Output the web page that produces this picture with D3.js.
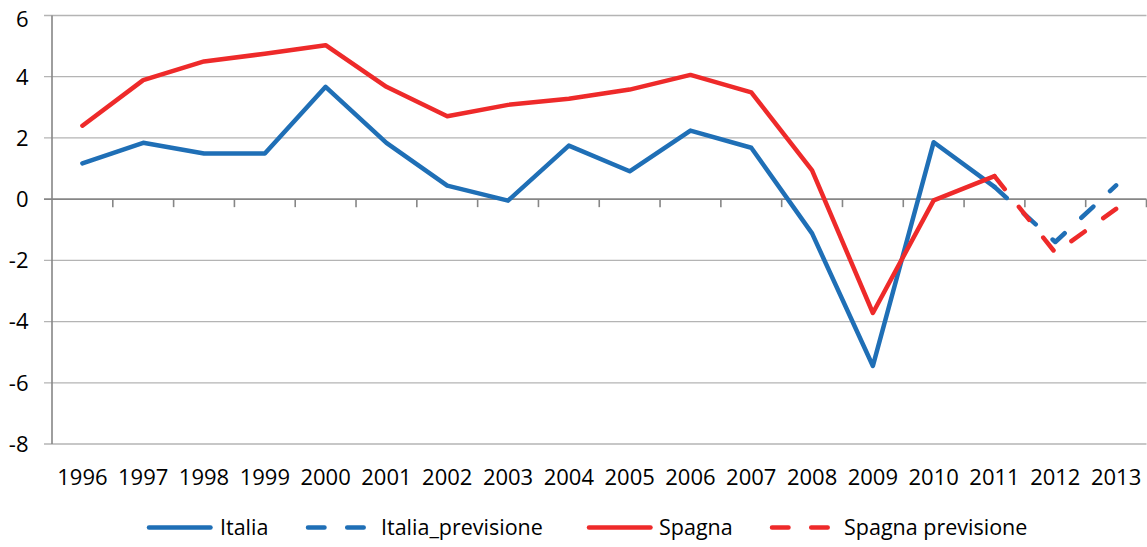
<!DOCTYPE html>
<html>
<head>
<meta charset="utf-8">
<script src="https://cdn.jsdelivr.net/npm/d3@7"></script>
<style>
  body { margin: 0; background: #fff; }
  svg { display: block; font-family: "Open Sans", sans-serif; }
</style>
</head>
<body>
<script>
// dati
var anni = ["1996", "1997", "1998", "1999", "2000", "2001", "2002", "2003", "2004",
            "2005", "2006", "2007", "2008", "2009", "2010", "2011", "2012", "2013"];
var italia = [1.17, 1.84, 1.49, 1.49, 3.67, 1.84, 0.44, -0.05, 1.75, 0.91, 2.24, 1.68,
              -1.12, -5.45, 1.86, 0.4, null, null];
var italiaPrevisione = [null, null, null, null, null, null, null, null, null, null, null, null,
                        null, null, null, 0.4, -1.4, 0.45];
var spagna = [2.4, 3.89, 4.5, 4.75, 5.03, 3.67, 2.71, 3.08, 3.28, 3.58, 4.06, 3.49,
              0.94, -3.72, -0.04, 0.75, null, null];
var spagnaPrevisione = [null, null, null, null, null, null, null, null, null, null, null, null,
                        null, null, null, 0.75, -1.75, -0.32];
var yTicks = [-8, -6, -4, -2, 0, 2, 4, 6];
var nomiSerie = ["Italia", "Italia_previsione", "Spagna", "Spagna previsione"];

var blu = "#1f6fb6", rosso = "#ee2a2a";
var serie = [
  { nome: nomiSerie[0], valori: italia, colore: blu, tratteggio: null, lx: 149, tx: 220 },
  { nome: nomiSerie[1], valori: italiaPrevisione, colore: blu, tratteggio: "16.5,22.7", lx: 308, tx: 381 },
  { nome: nomiSerie[2], valori: spagna, colore: rosso, tratteggio: null, lx: 589, tx: 659 },
  { nome: nomiSerie[3], valori: spagnaPrevisione, colore: rosso, tratteggio: "16.5,22.7", lx: 772, tx: 844 }
];

function disegnaGrafico() {
  var svg = d3.select("body").append("svg").attr("width", 1147).attr("height", 547);

  var x = d3.scaleBand().domain(anni).range([52, 1146.5]).padding(0);
  var y = d3.scaleLinear().domain([-8, 6]).range([444, 15.5]);

  // griglia orizzontale
  svg.append("g").selectAll("line").data(yTicks).enter().append("line")
    .attr("x1", 44).attr("x2", 1146.5)
    .attr("y1", function (d) { return y(d); }).attr("y2", function (d) { return y(d); })
    .attr("stroke", function (d) { return d == 0 ? "#868686" : "#b4b4b4"; })
    .attr("stroke-width", function (d) { return d == 0 ? 1.6 : 1.3; });

  // asse y
  svg.append("line").attr("x1", 52).attr("x2", 52).attr("y1", y(6)).attr("y2", y(-8))
    .attr("stroke", "#868686").attr("stroke-width", 1.6);
  svg.append("g").selectAll("text").data(yTicks).enter().append("text")
    .attr("x", 28.5).attr("y", function (d) { return Math.max(y(d), 19); })
    .attr("dy", "0.36em").attr("text-anchor", "end")
    .attr("font-size", 22).attr("fill", "#000")
    .text(function (d) { return d; });

  // tacche asse x (sul valore zero)
  var confini = anni.map(function (a) { return x(a); }).concat([x.range()[1]]);
  svg.append("g").selectAll("line").data(confini.slice(1)).enter().append("line")
    .attr("x1", function (d) { return d; }).attr("x2", function (d) { return d; })
    .attr("y1", y(0)).attr("y2", y(0) + 8)
    .attr("stroke", "#868686").attr("stroke-width", 1.6);

  // etichette anni
  svg.append("g").selectAll("text").data(anni).enter().append("text")
    .attr("x", function (d) { return x(d) + x.bandwidth() / 2; })
    .attr("y", 477).attr("dy", "0.36em").attr("text-anchor", "middle")
    .attr("font-size", 22).attr("fill", "#000")
    .text(function (d) { return d; });

  // linee
  var linea = d3.line()
    .defined(function (d) { return d != null; })
    .x(function (d, i) { return x(anni[i]) + x.bandwidth() / 2; })
    .y(function (d) { return y(d); });

  serie.forEach(function (s) {
    svg.append("path").datum(s.valori)
      .attr("d", linea).attr("fill", "none")
      .attr("stroke", s.colore).attr("stroke-width", 4.5)
      .attr("stroke-linejoin", "round").attr("stroke-linecap", "round")
      .attr("stroke-dasharray", s.tratteggio);
  });

  // legenda
  var ly = 527.5;
  serie.forEach(function (s) {
    svg.append("line")
      .attr("x1", s.lx).attr("x2", s.lx + 61.5).attr("y1", ly).attr("y2", ly)
      .attr("stroke", s.colore).attr("stroke-width", 4.5)
      .attr("stroke-linecap", "round").attr("stroke-dasharray", s.tratteggio);
    svg.append("text").attr("x", s.tx).attr("y", ly).attr("dy", "0.36em")
      .attr("font-size", 21.5).attr("fill", "#000").text(s.nome);
  });
}

window.onload = function () {
  disegnaGrafico();
};
</script>
</body>
</html>
